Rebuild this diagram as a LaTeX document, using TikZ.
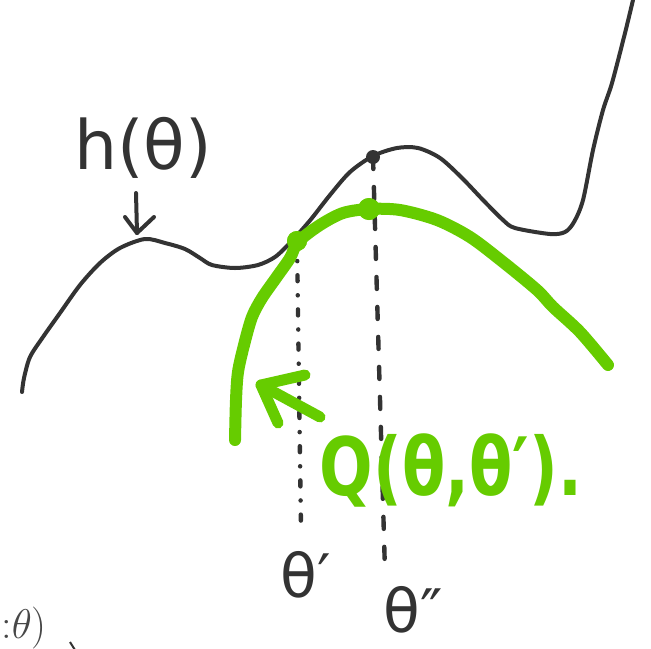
\documentclass[tikz,border=0pt]{standalone}
\usepackage{fontspec}
\usepackage{graphicx}
\newfontfamily\hand{DejaVu Sans}
\definecolor{ink}{HTML}{333333}
\definecolor{leaf}{HTML}{66CC00}
\begin{document}
\begin{tikzpicture}[x=0.5pt,y=-0.5pt,
  blk/.style={draw=ink, line width=2pt, line cap=round, line join=round},
  grn/.style={draw=leaf, line width=6pt, line cap=round, line join=round},
  garrow/.style={draw=leaf, line width=5.5pt, line cap=round, line join=round},
  dotdash/.style={draw=ink, line width=2.2pt, line cap=round, dash pattern=on 3pt off 7pt on 0.1pt off 7pt},
  dashline/.style={draw=ink, line width=2.2pt, line cap=round, dash pattern=on 6pt off 9pt},
  hlabel/.style={text=ink, font=\hand\fontsize{34}{40}\selectfont, inner sep=0pt},
  qlabel/.style={text=leaf, font=\hand\bfseries\fontsize{35}{42}\selectfont, inner sep=0pt},
  tlabel/.style={text=ink, font=\hand\fontsize{30}{36}\selectfont, inner sep=0pt},
  dotnode/.style={circle, inner sep=0pt, minimum size=#1},
]
\useasboundingbox (0,0) rectangle (651,648);
\clip (0,0) rectangle (651,648);

% h(theta) curve
\draw[blk] plot[smooth, tension=0.5] coordinates {
 (22,392) (24,378) (30,357) (43,337) (60,313) (80,285) (100,263) (120,248)
 (145,239) (165,243) (185,249) (200,258) (212,265) (235,268) (258,265)
 (275,257) (290,243) (300,232) (312,218) (330,195) (350,172) (373,156)
 (397,148) (418,148) (440,158) (462,178) (483,200) (503,220) (515,228)
 (550,234) (565,232) (574,222) (583,200) (593,150) (603,110) (612,83)
 (625,33) (633,0)};

% vertical guides
\node[dotnode=7pt, fill=ink] (top) at (373,157) {};
\node[dotnode=10pt, fill=leaf] (gp) at (297,241) {};
\node[dotnode=11pt, fill=leaf] (gm) at (369,209) {};
\coordinate (gpend) at (301,530);
\coordinate (topend) at (385,572);
\draw[dotdash] (gp.center) -- (gpend);
\draw[dashline] (top.center) -- (topend);

% Q curve
\draw[grn] plot[smooth, tension=0.5] coordinates {
 (235,440) (236,400) (238,372) (244,345) (252,317) (262,298) (276,278)
 (290,258) (298,242) (320,225) (343,213) (369,209) (400,210) (437,220)
 (470,237) (503,262) (537,290) (553,307) (580,332) (608,365)};
\node[dotnode=10pt, fill=leaf] at (gp) {};
\node[dotnode=11pt, fill=leaf] at (gm) {};

% h label and small arrow
\node[hlabel] (hl) at (143,148) {h(θ)};
\coordinate (ha) at (136,193);
\coordinate (hb) at (137,233);
\draw[blk] (ha) -- (hb);
\draw[blk] (125,217) -- (hb) -- (154,217);

% Q label and arrow
\node[qlabel] (ql) at (451,470) {\scalebox{0.9}[1.15]{Q(θ,θ′).}};
\coordinate (qt) at (261,385);
\coordinate (qs) at (320,417);
\draw[garrow] (qs) -- (qt);
\draw[garrow] (305,375) -- (qt) -- (278,423);

% theta labels
\node[tlabel] (t1) at (306,575) {θ′};
\node[tlabel] (t2) at (413,610) {θ″};

% text at bottom left
\node[text=ink!90, font=\fontsize{21}{26}\selectfont, inner sep=0pt, anchor=base west] (cut) at (1,638) {:$\theta$)};
\draw[ink, line width=1pt] (70,642) -- (75,650);
\end{tikzpicture}
\end{document}
